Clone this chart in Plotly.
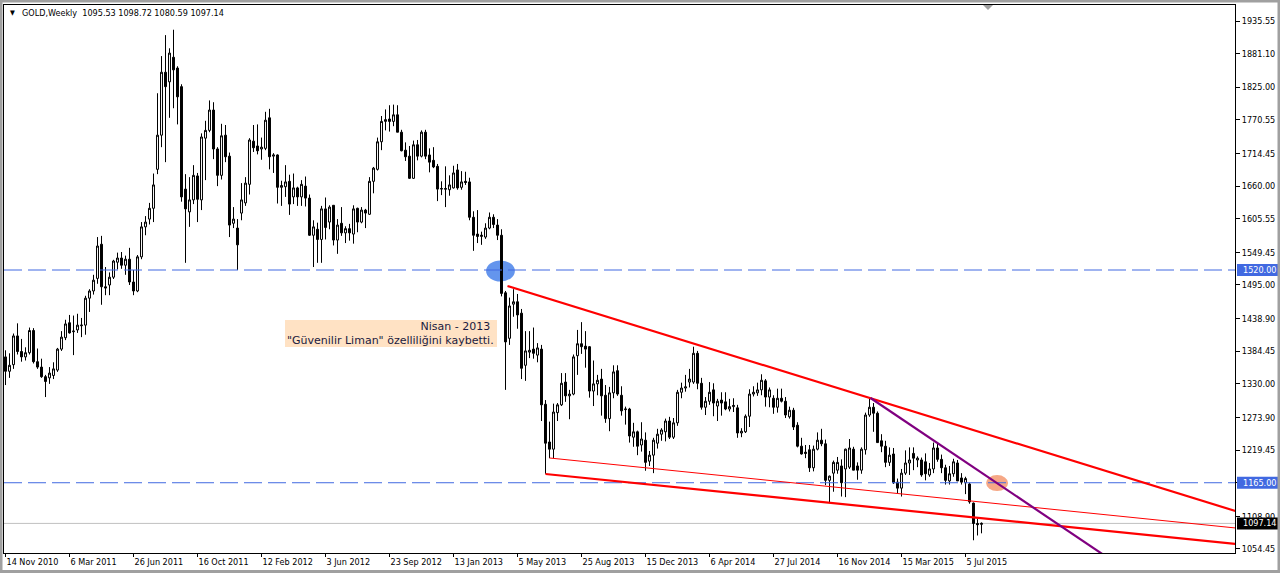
import plotly.graph_objects as go

# ---------------- data (weekly GOLD bars) ----------------
opens = [
    1375, 1351, 1362, 1410, 1384, 1375, 1382, 1419, 1367, 1358,
    1342, 1340, 1344, 1353, 1388, 1407, 1432, 1417, 1420, 1427,
    1428, 1473, 1485, 1506, 1563, 1492, 1495, 1508, 1533, 1540,
    1528, 1538, 1500, 1485, 1542, 1592, 1605, 1623, 1688, 1745,
    1850, 1834, 1875, 1857, 1826, 1655, 1617, 1637, 1677, 1637,
    1740, 1753, 1787, 1722, 1678, 1745, 1710, 1598, 1590, 1615,
    1632, 1663, 1735, 1727, 1722, 1723, 1774, 1710, 1712, 1658,
    1659, 1668, 1642, 1657, 1642, 1660, 1640, 1578, 1588, 1571,
    1622, 1600, 1628, 1570, 1598, 1582, 1589, 1580, 1623, 1600,
    1620, 1613, 1668, 1688, 1734, 1768, 1772, 1768, 1779, 1750,
    1720, 1710, 1673, 1729, 1710, 1750, 1712, 1703, 1693, 1655,
    1656, 1654, 1657, 1687, 1658, 1668, 1667, 1608, 1580, 1576,
    1575, 1590, 1608, 1595, 1578, 1482, 1406, 1463, 1467, 1448,
    1361, 1383, 1388, 1378, 1388, 1296, 1233, 1221, 1282, 1295,
    1333, 1310, 1313, 1377, 1397, 1393, 1392, 1318, 1330, 1338,
    1311, 1272, 1315, 1352, 1311, 1287, 1288, 1241, 1250, 1228,
    1236, 1201, 1211, 1231, 1246, 1250, 1268, 1241, 1265, 1316,
    1323, 1333, 1333, 1381, 1331, 1291, 1301, 1320, 1293, 1303,
    1300, 1288, 1292, 1290, 1248, 1250, 1276, 1313, 1315, 1320,
    1335, 1308, 1306, 1291, 1306, 1301, 1275, 1286, 1261, 1226,
    1216, 1220, 1190, 1221, 1236, 1230, 1169, 1181, 1186, 1193,
    1188, 1191, 1221, 1193, 1186, 1220, 1278, 1291, 1281, 1235,
    1226, 1199, 1213, 1166, 1156, 1181, 1198, 1214, 1203, 1203,
    1200, 1178, 1188, 1223, 1204, 1190, 1168, 1180, 1198, 1173,
    1165, 1163, 1131, 1097, 1095.53,
]
highs = [
    1386, 1381, 1414, 1431, 1405, 1391, 1424, 1423, 1389, 1372,
    1345, 1358, 1366, 1390, 1418, 1437, 1445, 1444, 1447, 1440,
    1477, 1488, 1512, 1575, 1577, 1525, 1516, 1537, 1549, 1550,
    1544, 1557, 1520, 1545, 1600, 1610, 1632, 1681, 1815, 1877,
    1912, 1890, 1921, 1860, 1830, 1680, 1675, 1695, 1682, 1748,
    1769, 1803, 1800, 1725, 1764, 1762, 1716, 1625, 1605, 1665,
    1675, 1740, 1762, 1763, 1741, 1784, 1789, 1715, 1713, 1669,
    1695, 1679, 1681, 1659, 1670, 1676, 1646, 1603, 1599, 1627,
    1641, 1628, 1628, 1605, 1625, 1593, 1597, 1628, 1624, 1625,
    1622, 1675, 1692, 1741, 1777, 1788, 1795, 1796, 1795, 1754,
    1733, 1727, 1736, 1737, 1753, 1754, 1723, 1725, 1697, 1668,
    1693, 1678, 1694, 1697, 1685, 1684, 1674, 1618, 1620, 1584,
    1598, 1616, 1613, 1605, 1588, 1485, 1474, 1488, 1480, 1455,
    1418, 1418, 1424, 1398, 1395, 1303, 1267, 1297, 1298, 1348,
    1348, 1320, 1379, 1420, 1433, 1418, 1393, 1369, 1345, 1355,
    1328, 1325, 1361, 1361, 1326, 1292, 1290, 1265, 1252, 1266,
    1249, 1218, 1240, 1255, 1256, 1272, 1275, 1273, 1320, 1332,
    1345, 1355, 1392, 1385, 1340, 1308, 1333, 1331, 1305, 1316,
    1316, 1305, 1306, 1295, 1256, 1279, 1321, 1326, 1332, 1346,
    1338, 1324, 1311, 1322, 1322, 1308, 1292, 1290, 1266, 1240,
    1228, 1228, 1227, 1249, 1255, 1237, 1177, 1202, 1208, 1204,
    1222, 1238, 1225, 1199, 1224, 1282, 1307, 1298, 1284, 1246,
    1235, 1224, 1223, 1172, 1188, 1219, 1224, 1224, 1209, 1207,
    1214, 1198, 1232, 1232, 1212, 1195, 1193, 1205, 1203, 1181,
    1175, 1165, 1132, 1105, 1098.72,
]
lows = [
    1328, 1340, 1355, 1379, 1367, 1369, 1379, 1364, 1355, 1340,
    1308, 1330, 1338, 1350, 1385, 1403, 1414, 1378, 1415, 1408,
    1412, 1450, 1479, 1497, 1462, 1478, 1478, 1505, 1521, 1522,
    1512, 1495, 1478, 1483, 1538, 1578, 1596, 1600, 1680, 1725,
    1700, 1774, 1790, 1763, 1634, 1532, 1592, 1630, 1600, 1620,
    1670, 1750, 1705, 1660, 1671, 1700, 1575, 1590, 1520, 1603,
    1627, 1646, 1717, 1713, 1704, 1720, 1688, 1682, 1631, 1627,
    1642, 1612, 1630, 1627, 1627, 1626, 1577, 1525, 1532, 1532,
    1571, 1588, 1561, 1547, 1577, 1565, 1569, 1564, 1583, 1598,
    1590, 1612, 1648, 1686, 1720, 1753, 1751, 1760, 1750, 1718,
    1702, 1672, 1672, 1703, 1708, 1705, 1683, 1690, 1635, 1645,
    1625, 1644, 1656, 1654, 1654, 1662, 1603, 1552, 1565, 1562,
    1572, 1588, 1590, 1570, 1476, 1320, 1395, 1442, 1422, 1338,
    1335, 1373, 1372, 1366, 1268, 1180, 1206, 1206, 1268, 1293,
    1300, 1271, 1311, 1345, 1380, 1357, 1307, 1293, 1311, 1277,
    1265, 1251, 1306, 1310, 1277, 1262, 1232, 1225, 1211, 1217,
    1185, 1193, 1181, 1222, 1235, 1234, 1238, 1238, 1260, 1306,
    1317, 1324, 1330, 1321, 1287, 1278, 1295, 1276, 1268, 1277,
    1286, 1284, 1283, 1240, 1241, 1248, 1258, 1309, 1310, 1311,
    1292, 1291, 1280, 1282, 1299, 1273, 1272, 1253, 1224, 1212,
    1206, 1183, 1184, 1219, 1226, 1161, 1131, 1150, 1180, 1142,
    1141, 1188, 1186, 1170, 1180, 1212, 1275, 1250, 1232, 1216,
    1191, 1193, 1163, 1147, 1142, 1178, 1178, 1186, 1191, 1175,
    1169, 1175, 1181, 1200, 1181, 1162, 1162, 1175, 1168, 1162,
    1146, 1130, 1069, 1077, 1080.59,
]
closes = [
    1351, 1361, 1410, 1384, 1375, 1382, 1419, 1367, 1358, 1342,
    1334, 1348, 1355, 1388, 1408, 1430, 1415, 1418, 1428, 1428,
    1473, 1485, 1503, 1560, 1492, 1490, 1508, 1535, 1540, 1528,
    1538, 1500, 1485, 1542, 1592, 1600, 1623, 1662, 1745, 1850,
    1826, 1882, 1854, 1809, 1642, 1622, 1637, 1678, 1638, 1742,
    1753, 1787, 1722, 1678, 1744, 1709, 1595, 1605, 1562, 1637,
    1665, 1737, 1724, 1719, 1725, 1770, 1709, 1712, 1658, 1661,
    1667, 1630, 1657, 1642, 1663, 1640, 1578, 1592, 1571, 1622,
    1591, 1625, 1570, 1595, 1582, 1589, 1582, 1622, 1600, 1620,
    1615, 1668, 1690, 1734, 1768, 1771, 1768, 1779, 1750, 1719,
    1709, 1673, 1729, 1710, 1750, 1710, 1700, 1692, 1655, 1656,
    1655, 1662, 1682, 1657, 1667, 1666, 1608, 1578, 1576, 1578,
    1590, 1608, 1596, 1578, 1481, 1400, 1460, 1467, 1445, 1356,
    1385, 1386, 1381, 1390, 1295, 1231, 1221, 1283, 1295, 1331,
    1310, 1313, 1375, 1397, 1392, 1388, 1318, 1330, 1336, 1310,
    1272, 1315, 1350, 1313, 1285, 1288, 1243, 1250, 1226, 1238,
    1199, 1211, 1236, 1246, 1253, 1268, 1241, 1265, 1316, 1323,
    1325, 1338, 1381, 1331, 1291, 1301, 1316, 1298, 1301, 1298,
    1288, 1292, 1294, 1248, 1251, 1276, 1313, 1316, 1320, 1336,
    1308, 1320, 1291, 1306, 1301, 1278, 1286, 1258, 1226, 1213,
    1214, 1190, 1221, 1236, 1230, 1169, 1176, 1199, 1199, 1165,
    1221, 1223, 1186, 1186, 1221, 1278, 1291, 1281, 1232, 1226,
    1199, 1211, 1165, 1156, 1181, 1198, 1203, 1206, 1206, 1178,
    1180, 1188, 1223, 1204, 1190, 1169, 1180, 1200, 1168, 1166,
    1172, 1133, 1097, 1095, 1097.14,
]
bar_index = list(range(len(opens)))

# x-axis labels (every 16th bar, as MetaTrader prints them)
x_tick_bars = [0, 16, 32, 48, 64, 80, 96, 112, 128, 144, 160, 176, 192, 208, 224, 240]
x_tick_labels = ["14 Nov 2010", "6 Mar 2011", "26 Jun 2011", "16 Oct 2011", "12 Feb 2012",
                 "3 Jun 2012", "23 Sep 2012", "13 Jan 2013", "5 May 2013", "25 Aug 2013",
                 "15 Dec 2013", "6 Apr 2014", "27 Jul 2014", "16 Nov 2014", "15 Mar 2015",
                 "5 Jul 2015"]
# price-scale labels
y_tick_values = [1935.55, 1881.10, 1825.00, 1770.55, 1714.45, 1660.00, 1605.55, 1549.45,
                 1495.00, 1438.90, 1384.45, 1330.00, 1273.90, 1219.45, 1165.00, 1108.90,
                 1054.45]
y_tick_labels = ["1935.55", "1881.10", "1825.00", "1770.55", "1714.45", "1660.00", "1605.55",
                 "1549.45", "1495.00", "1438.90", "1384.45", "1330.00", "1273.90", "1219.45",
                 "1165.00", "1108.90", "1054.45"]

# horizontal levels and last price
level_prices = [1520.00, 1165.00]
level_labels = ["1520.00", "1165.00"]
last_price = 1097.14
last_label = "1097.14"
header_text = "GOLD,Weekly\u00a0\u00a01095.53 1098.72 1080.59 1097.14"

# trend lines: (bar, price) -> (bar, price)
red_thick_lines = [((125.5, 1493.3), (307.5, 1117.8)),
                   ((135.0, 1179.6), (307.5, 1062.8))]
red_thin_lines = [((136.0, 1206.3), (307.5, 1089.5))]
purple_lines = [((216.25, 1306.4), (280.0, 1020.0))]

# highlight ellipses: (center bar, center price, half-width bars, half-height price, colour)
ellipses = [(123.75, 1518.4, 3.6, 17.5, "#6495ED"),
            (247.9, 1164.5, 2.75, 13.3, "#F6A886")]

note_lines = ["Nisan - 2013\u00a0", "\"Güvenilir Liman\" özelliliğini kaybetti."]

# ---------------- geometry ----------------
W, H = 1280, 573
L, R, T, B = 4, 1235, 5, 553
X_RANGE = [-0.375, 307.375]
Y_RANGE = [1047.75, 1962.25]


def px_x(px):
    return X_RANGE[0] + (px - L) / (R - L) * (X_RANGE[1] - X_RANGE[0])


def px_y(py):
    return Y_RANGE[1] - (py - T) / (B - T) * (Y_RANGE[1] - Y_RANGE[0])


def paper_x(px):
    return (px - L) / (R - L)


def paper_y(py):
    return (B - py) / (B - T)


UI_FONT = "DejaVu Sans Condensed, DejaVu Sans, sans-serif"

fig = go.Figure()
fig.add_trace(go.Candlestick(
    x=bar_index, open=opens, high=highs, low=lows, close=closes,
    increasing=dict(line=dict(color="black", width=1), fillcolor="white"),
    decreasing=dict(line=dict(color="black", width=1), fillcolor="black"),
    whiskerwidth=0, hoverinfo="skip", showlegend=False,
))

shapes = []
# ellipses (behind the candles)
for cx, cy, hw, hh, col in ellipses:
    shapes.append(dict(type="circle", xref="x", yref="y", x0=cx - hw, x1=cx + hw,
                       y0=cy - hh, y1=cy + hh, fillcolor=col, line=dict(width=0),
                       layer="below"))
# dashed levels
for p in level_prices:
    shapes.append(dict(type="line", xref="paper", yref="y", x0=0, x1=1, y0=p, y1=p,
                       line=dict(color="#4169E1", width=1, dash="18px,6px"), layer="above"))
# last price line
shapes.append(dict(type="line", xref="paper", yref="y", x0=0, x1=1, y0=last_price, y1=last_price,
                   line=dict(color="#C0C0C0", width=1), layer="below"))
for (a, b) in red_thin_lines:
    shapes.append(dict(type="line", xref="x", yref="y", x0=a[0], y0=a[1], x1=b[0], y1=b[1],
                       line=dict(color="#FF0000", width=1), layer="above"))
for (a, b) in red_thick_lines:
    shapes.append(dict(type="line", xref="x", yref="y", x0=a[0], y0=a[1], x1=b[0], y1=b[1],
                       line=dict(color="#FF0000", width=2.2), layer="above"))
for (a, b) in purple_lines:
    shapes.append(dict(type="line", xref="x", yref="y", x0=a[0], y0=a[1], x1=b[0], y1=b[1],
                       line=dict(color="#800080", width=2.2), layer="above"))

# note background
shapes.append(dict(type="rect", xref="x", yref="y", x0=px_x(285), x1=px_x(497),
                   y0=px_y(347), y1=px_y(320), fillcolor="#FFE2C4", line=dict(width=0),
                   layer="above"))

# price-scale label boxes
for p in level_prices:
    shapes.append(dict(type="rect", xref="paper", yref="y", x0=paper_x(1237), x1=paper_x(1278),
                       y0=p - 10.0, y1=p + 10.0, fillcolor="#4169E1", line=dict(width=0),
                       layer="above"))
shapes.append(dict(type="rect", xref="paper", yref="y", x0=paper_x(1237), x1=paper_x(1278),
                   y0=last_price - 10.0, y1=last_price + 10.0, fillcolor="black",
                   line=dict(width=0), layer="above"))

# chart-shift marker at top
shapes.append(dict(type="path", xref="paper", yref="paper",
                   path="M {} {} L {} {} L {} {} Z".format(paper_x(983), paper_y(5),
                                                           paper_x(993), paper_y(5),
                                                           paper_x(988), paper_y(10)),
                   fillcolor="#A0A0A0", line=dict(width=0)))

# outer window frame
shapes.append(dict(type="rect", xref="paper", yref="paper", x0=paper_x(1), x1=paper_x(1279),
                   y0=paper_y(571.5), y1=paper_y(1), line=dict(color="#A0A0A0", width=3),
                   fillcolor="rgba(0,0,0,0)"))

annotations = []
annotations.append(dict(xref="paper", yref="paper", x=paper_x(8), y=paper_y(13),
                        text="\u25BC", showarrow=False, xanchor="left", yanchor="middle",
                        font=dict(family=UI_FONT, size=7, color="black")))
annotations.append(dict(xref="paper", yref="paper", x=paper_x(20), y=paper_y(13),
                        text=header_text, showarrow=False, xanchor="left", yanchor="middle",
                        font=dict(family=UI_FONT, size=9, color="black")))
annotations.append(dict(xref="x", yref="y", x=px_x(496), y=px_y(333.5),
                        text="<br>".join(note_lines), showarrow=False, xanchor="right",
                        yanchor="middle", align="right",
                        font=dict(family="DejaVu Sans, sans-serif", size=11, color="#1A1A40")))
for p, t in zip(level_prices, level_labels):
    annotations.append(dict(xref="paper", yref="y", x=paper_x(1241), y=p, text=t,
                            showarrow=False, xanchor="left", yanchor="middle",
                            font=dict(family=UI_FONT, size=9, color="white")))
annotations.append(dict(xref="paper", yref="y", x=paper_x(1241), y=last_price, text=last_label,
                        showarrow=False, xanchor="left", yanchor="middle",
                        font=dict(family=UI_FONT, size=9, color="white")))

fig.update_layout(
    width=W, height=H,
    margin=dict(l=L, r=W - R, t=T, b=H - B, pad=0),
    paper_bgcolor="white", plot_bgcolor="white",
    showlegend=False,
    shapes=shapes, annotations=annotations,
    xaxis=dict(range=X_RANGE, showgrid=False, zeroline=False, rangeslider=dict(visible=False),
               showline=True, linecolor="black", linewidth=1, mirror=True,
               tickmode="array", tickvals=x_tick_bars, ticktext=x_tick_labels,
               ticks="outside", ticklen=3, tickcolor="black", tickwidth=1,
               ticklabelposition="outside right",
               tickfont=dict(family=UI_FONT, size=9, color="black")),
    yaxis=dict(range=Y_RANGE, side="right", showgrid=False, zeroline=False,
               showline=True, linecolor="black", linewidth=1, mirror=True,
               tickmode="array", tickvals=y_tick_values, ticktext=y_tick_labels,
               ticks="outside", ticklen=4, tickcolor="black", tickwidth=1,
               tickfont=dict(family=UI_FONT, size=9, color="black")),
)

fig.write_html("out.html", config={"displayModeBar": False},
               post_script="document.body.style.margin='0px';")
